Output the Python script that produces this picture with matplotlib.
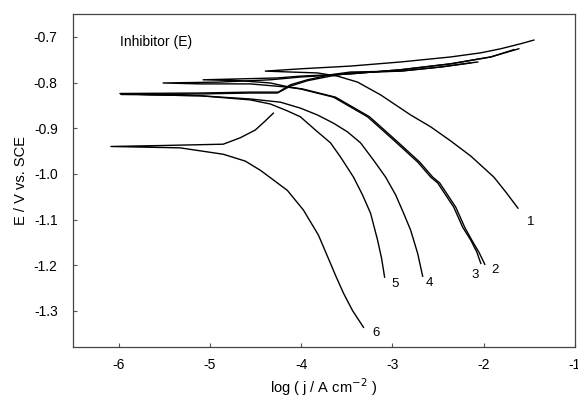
import matplotlib
matplotlib.use("Agg")
import matplotlib.pyplot as plt

plt.rcParams['font.family'] = ['Liberation Sans', 'DejaVu Sans']

# ── Polarization curves: cathodic end -> corrosion tip -> anodic end ──
c1_x = [-1.625, -1.757, -1.889, -2.142, -2.361, -2.581, -2.801, -3.130, -3.383, -3.602, -3.822, -4.119, -4.393,
        -4.009, -3.460, -2.910, -2.361, -2.032, -1.812, -1.593, -1.450]
c1_y = [-1.075, -1.040, -1.007, -0.961, -0.928, -0.897, -0.871, -0.827, -0.799, -0.786, -0.779, -0.777, -0.775,
        -0.770, -0.764, -0.755, -0.744, -0.735, -0.726, -0.715, -0.707]

c2_x = [-1.988, -2.054, -2.131, -2.208, -2.306, -2.482, -2.559, -2.702, -2.965, -3.251, -3.624, -3.987, -4.130,
        -4.338, -4.668, -5.074,
        -4.668, -4.261, -4.009, -3.460, -2.910, -2.361, -1.922, -1.615]
c2_y = [-1.198, -1.171, -1.145, -1.117, -1.073, -1.020, -1.007, -0.974, -0.926, -0.875, -0.832, -0.814, -0.810,
        -0.801, -0.796, -0.794,
        -0.792, -0.790, -0.786, -0.781, -0.772, -0.759, -0.744, -0.726]

c3_x = [-2.032, -2.076, -2.142, -2.230, -2.328, -2.504, -2.581, -2.724, -2.987, -3.273, -3.646, -4.009, -4.152,
        -4.558, -5.107, -5.513,
        -4.887, -4.338, -4.009, -3.460, -2.910, -2.361, -1.922, -1.669]
c3_y = [-1.196, -1.171, -1.145, -1.117, -1.073, -1.020, -1.007, -0.974, -0.926, -0.875, -0.832, -0.814, -0.810,
        -0.803, -0.803, -0.801,
        -0.799, -0.794, -0.788, -0.781, -0.772, -0.759, -0.744, -0.728]

c4_x = [-2.669, -2.724, -2.801, -2.878, -2.965, -3.075, -3.207, -3.350, -3.493, -3.646, -3.822, -4.009, -4.228,
        -4.558, -5.107, -5.656, -5.986,
        -5.107, -4.558, -4.250, -4.119, -3.932, -3.679, -3.460, -2.910, -2.471, -2.065]
c4_y = [-1.224, -1.174, -1.123, -1.086, -1.046, -1.007, -0.970, -0.932, -0.908, -0.889, -0.871, -0.856, -0.843,
        -0.836, -0.829, -0.827, -0.824,
        -0.823, -0.821, -0.821, -0.805, -0.794, -0.783, -0.777, -0.775, -0.766, -0.755]

c5_x = [-3.086, -3.119, -3.163, -3.240, -3.328, -3.427, -3.569, -3.679, -3.844, -4.009, -4.152, -4.338, -4.558,
        -5.107, -5.656, -5.975,
        -5.107, -4.558, -4.261, -4.119, -3.932, -3.679, -3.460, -2.910, -2.471, -2.142]
c5_y = [-1.226, -1.185, -1.145, -1.086, -1.046, -1.007, -0.963, -0.932, -0.904, -0.875, -0.862, -0.847, -0.838,
        -0.829, -0.827, -0.826,
        -0.825, -0.823, -0.823, -0.808, -0.796, -0.786, -0.779, -0.775, -0.766, -0.757]

c6_x = [-3.317, -3.438, -3.537, -3.624, -3.679, -3.811, -3.976, -4.152, -4.448, -4.613, -4.854, -5.327, -6.085,
        -5.546, -4.854, -4.668, -4.503, -4.393, -4.305]
c6_y = [-1.336, -1.299, -1.261, -1.222, -1.196, -1.134, -1.079, -1.036, -0.992, -0.972, -0.957, -0.943, -0.940,
        -0.938, -0.935, -0.921, -0.904, -0.884, -0.867]

curves = [(c1_x, c1_y), (c2_x, c2_y), (c3_x, c3_y), (c4_x, c4_y), (c5_x, c5_y), (c6_x, c6_y)]

# curve number labels
label_txt = ['1', '2', '3', '4', '5', '6']
label_x = [-1.49, -1.878, -2.098, -2.592, -2.976, -3.185]
label_y = [-1.106, -1.211, -1.222, -1.239, -1.242, -1.349]

# ── Plot ─────────────────────────────────────────────────────
fig = plt.figure(figsize=(5.78, 3.99), dpi=100)
ax = fig.add_axes([0.1263, 0.1303, 0.8685, 0.8346])

for cx, cy in curves:
    ax.plot(cx, cy, color='black', linewidth=1.0)

for t, lx, ly in zip(label_txt, label_x, label_y):
    ax.text(lx, ly, t, fontsize=9.5, ha='center', va='center')

ax.text(-5.99, -0.712, 'Inhibitor (E)', fontsize=10, ha='left', va='center')

ax.set_xlim(-6.5, -1)
ax.set_ylim(-1.379, -0.65)
ax.set_xticks([-6, -5, -4, -3, -2, -1])
ax.set_xticklabels(['-6', '-5', '-4', '-3', '-2', '-1'])
ax.set_yticks([-0.7, -0.8, -0.9, -1.0, -1.1, -1.2, -1.3])
ax.set_yticklabels(['-0.7', '-0.8', '-0.9', '-1.0', '-1.1', '-1.2', '-1.3'])
ax.tick_params(direction='in', length=3, width=0.8, labelsize=10, color='#555555')
ax.tick_params(axis='x', pad=8)
ax.tick_params(axis='y', pad=11)

for s in ax.spines.values():
    s.set_color('#444444')
    s.set_linewidth(0.9)

ax.set_xlabel('log ( j / A cm$^{-2}$ )', fontsize=10.5, labelpad=3)
ax.set_ylabel('E / V vs. SCE', fontsize=10.5, labelpad=4)

plt.savefig('out.png', dpi=100)
